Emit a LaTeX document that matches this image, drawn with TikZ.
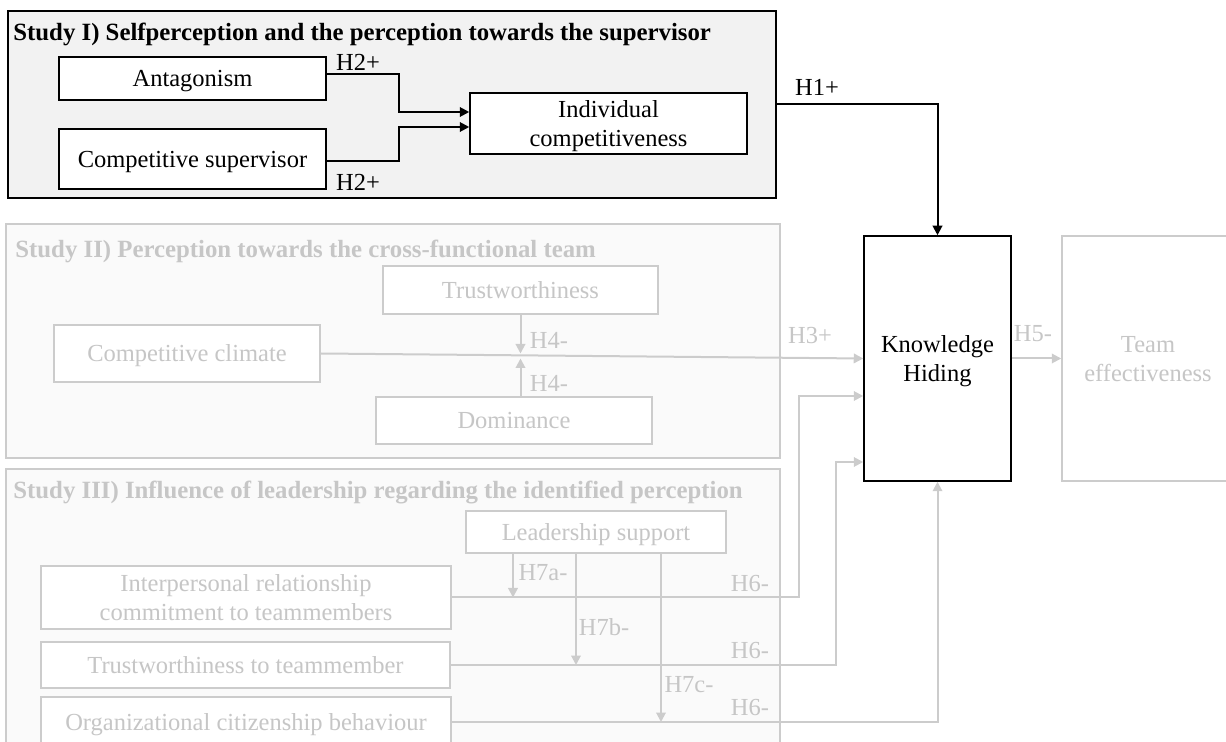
\documentclass[tikz,border=0pt]{standalone}
\usepackage{fontspec}
\setmainfont{Liberation Serif}
\usetikzlibrary{arrows.meta}
\definecolor{faint}{RGB}{198,198,198}
\definecolor{faintline}{RGB}{204,204,204}
\definecolor{studyfill}{RGB}{242,242,242}
\definecolor{paler}{RGB}{250,250,250}

\begin{document}
\begin{tikzpicture}[x=0.5pt,y=-0.5pt,
  every node/.style={font=\fontsize{12.25}{14.5}\selectfont, inner sep=0pt},
  box/.style={draw=black, line width=0.75pt, fill=white, align=center, text depth=0pt},
  faintbox/.style={draw=faintline, line width=0.75pt, fill=white, text=faint, align=center, text depth=0pt},
  frame/.style={draw=black, line width=0.75pt, fill=studyfill},
  faintframe/.style={draw=faintline, line width=0.75pt, fill=paler},
  link/.style={draw=black, line width=1pt, -{Triangle[length=4.75pt,width=4.75pt]}},
  faintlink/.style={draw=faintline, line width=1pt, -{Triangle[length=4.75pt,width=4.75pt]}},
  hyp/.style={text=black},
  fainthyp/.style={text=faint},
  title/.style={font=\fontsize{12.4}{14.5}\selectfont\bfseries, anchor=west}]
                \useasboundingbox (0,0) rectangle (1226,742);
                % study frames
                \node[frame, minimum width=384pt, minimum height=93.5pt] (studyone) at (392,104.5) {};
                \node[faintframe, minimum width=387pt, minimum height=117pt] (studytwo) at (393,341) {};
                \node[faintframe, minimum width=387pt, minimum height=145.5pt] (studythree) at (393,614.5) {};
                \node[title] (titleone) at (13,34.5) {Study I) Selfperception and the perception towards the supervisor};
                \node[title, text=faint] (titletwo) at (15,251.5) {Study II) Perception towards the cross-functional team};
                \node[title, text=faint] (titlethree) at (13,492.5) {Study III) Influence of leadership regarding the identified perception};
                % study I
                \node[box, minimum width=133.5pt, minimum height=21.5pt] (antag) at (192.5,78.5) {Antagonism};
                \node[box, minimum width=133.5pt, minimum height=30pt] (compsup) at (192.5,159) {Competitive supervisor};
                \node[box, minimum width=138.5pt, minimum height=30.5pt] (indcomp) at (608.5,123.5) {Individual\\competitiveness};
                % outcome
                \node[box, minimum width=73.5pt, minimum height=122.5pt] (knowhide) at (937.5,358.5) {Knowledge\\Hiding};
                \node[faintbox, minimum width=86pt, minimum height=122.5pt] (teameff) at (1148,358.5) {Team\\effectiveness};
                % study II
                \node[faintbox, minimum width=137.5pt, minimum height=24pt] (trust) at (520.5,290) {Trustworthiness};
                \node[faintbox, minimum width=133pt, minimum height=28.5pt] (compclim) at (187,353.5) {Competitive climate};
                \node[faintbox, minimum width=138pt, minimum height=23.5pt] (domin) at (514,420.5) {Dominance};
                % study III
                \node[faintbox, minimum width=130pt, minimum height=21pt] (leadsup) at (596,532) {Leadership support};
                \node[faintbox, minimum width=205pt, minimum height=31.5pt] (interp) at (246,597.5) {Interpersonal relationship\\commitment to teammembers};
                \node[faintbox, minimum width=204.5pt, minimum height=23pt] (trustteam) at (245.5,665) {Trustworthiness to teammember};
                \node[faintbox, minimum width=205pt, minimum height=25pt] (ocb) at (246,722) {Organizational citizenship behaviour};
                % connectors
                \draw[link] ([yshift=2pt]antag.east) -- ++(72,0) |- ([yshift=5.75pt]indcomp.west);
                \draw[link] ([yshift=-1pt]compsup.east) -- ++(72,0) |- ([yshift=-1.75pt]indcomp.west);
                \draw[link] (studyone.east) -| (knowhide.north);
                \draw[faintlink] (compclim.east) -- (knowhide.west);
                \draw[faintlink] (trust.south) -- (trust.south |- compclim.east);
                \draw[faintlink] (trust.south |- domin.north) -- (trust.south |- knowhide.west);
                \draw[faintlink] (knowhide.east) -- (teameff.west);
                \coordinate (tapa) at ([xshift=-41.5pt]leadsup.south);
                \coordinate (tapb) at ([xshift=-10pt]leadsup.south);
                \coordinate (tapc) at ([xshift=32.5pt]leadsup.south);
                \draw[faintlink] (tapa) -- (tapa |- interp.east);
                \draw[faintlink] (tapb) -- (tapb |- trustteam.east);
                \draw[faintlink] (tapc) -- (tapc |- ocb.east);
                \draw[faintlink] (interp.east) -- ++(347,0) |- ([yshift=-18.75pt]knowhide.west);
                \draw[faintlink] (trustteam.east) -- ++(385,0) |- ([yshift=-51.75pt]knowhide.west);
                \draw[faintlink] (ocb.east) -| (knowhide.south);
                % hypothesis labels
                \node[hyp] (htwoa) at (358,62) {H2+};
                \node[hyp] (htwob) at (358,182) {H2+};
                \node[hyp] (hone) at (817,87) {H1+};
                \node[fainthyp] (hthree) at (810,336) {H3+};
                \node[fainthyp] (hfive) at (1033,334) {H5-};
                \node[fainthyp] (hfoura) at (549,340) {H4-};
                \node[fainthyp] (hfourb) at (549,383) {H4-};
                \node[fainthyp] (hsevena) at (543,573) {H7a-};
                \node[fainthyp] (hsevenb) at (604,627) {H7b-};
                \node[fainthyp] (hsevenc) at (689,685) {H7c-};
                \node[fainthyp] (hsixa) at (750,584) {H6-};
                \node[fainthyp] (hsixb) at (750,651) {H6-};
                \node[fainthyp] (hsixc) at (750,708) {H6-};
\end{tikzpicture}
\end{document}
